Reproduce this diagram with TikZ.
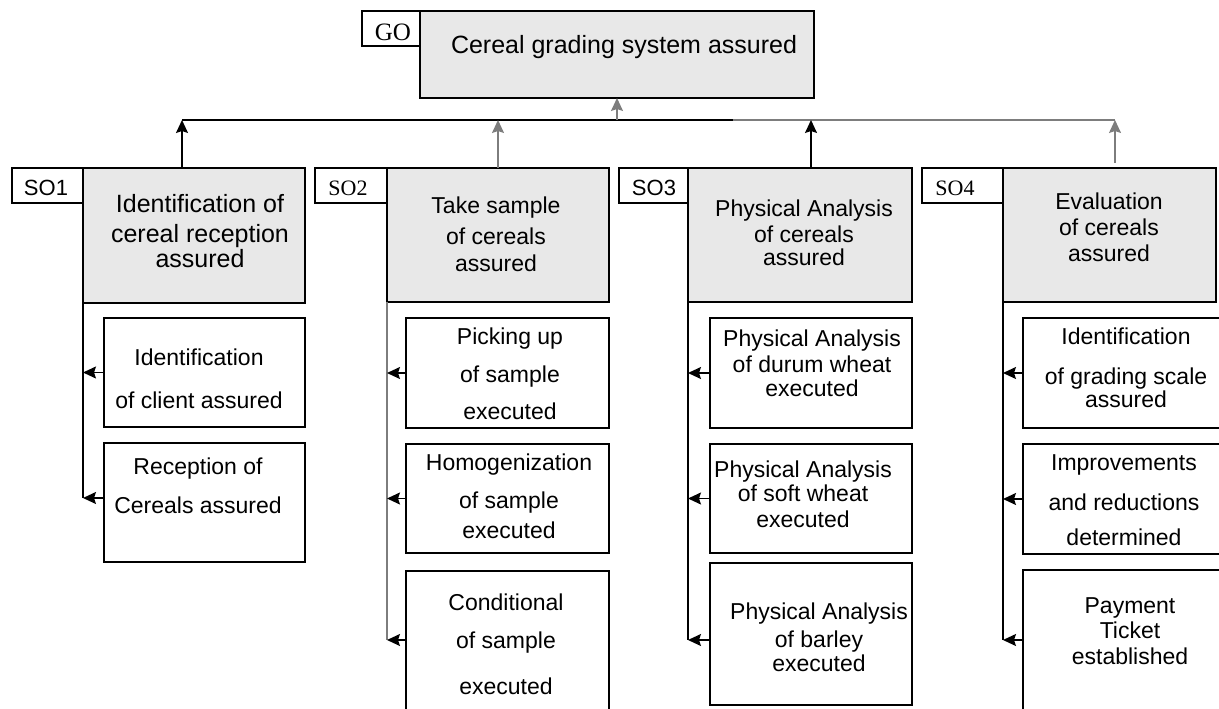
\documentclass[tikz,border=0pt]{standalone}
\usepackage{fontspec}
\setmainfont{Liberation Sans}
\newfontfamily\labserif{Liberation Serif}
\usetikzlibrary{arrows.meta}
\definecolor{boxfill}{RGB}{232,232,232}
\definecolor{lgray}{RGB}{125,125,125}
\begin{document}
\begin{tikzpicture}[x=1pt,y=-1pt,
  box/.style={draw, line width=1.5pt, inner sep=0pt, outer sep=0pt, anchor=north west},
  gbox/.style={box, fill=boxfill},
  txt/.style={align=center, inner sep=0pt, anchor=base, font=\fontsize{23}{24}\selectfont},
  bigtxt/.style={txt, font=\fontsize{25}{25}\selectfont},
  lab/.style={inner sep=0pt, anchor=base, font=\fontsize{22}{22}\selectfont},
  slab/.style={lab, font=\labserif\fontsize{22}{22}\selectfont},
  ln/.style={line width=1.5pt},
  arr/.style={line width=1.5pt, -{Stealth[length=13pt,width=12pt,inset=2pt]}}]
\useasboundingbox (0,0) rectangle (1219,709);
\clip (0,0) rectangle (1219,709);

% ---------- boxes ----------
\node[box, minimum width=58pt, minimum height=35pt] (GOl) at (362,11) {};
\node[gbox, minimum width=394pt, minimum height=87pt] (GO) at (420,11) {};

\node[box, minimum width=71pt, minimum height=35pt] (SO1l) at (12,168) {};
\node[gbox, minimum width=222pt, minimum height=135pt] (SO1) at (83,168) {};
\node[box, minimum width=201pt, minimum height=109pt] (s11) at (104,318) {};
\node[box, minimum width=201pt, minimum height=119pt] (s12) at (104,443) {};

\node[box, minimum width=72pt, minimum height=35pt] (SO2l) at (315,168) {};
\node[gbox, minimum width=222pt, minimum height=134pt] (SO2) at (387,168) {};
\node[box, minimum width=203pt, minimum height=110pt] (s21) at (406,318) {};
\node[box, minimum width=203pt, minimum height=109pt] (s22) at (406,444) {};
\node[box, minimum width=203pt, minimum height=150pt] (s23) at (406,571) {};

\node[box, minimum width=69pt, minimum height=35pt] (SO3l) at (619,168) {};
\node[gbox, minimum width=224pt, minimum height=134pt] (SO3) at (688,168) {};
\node[box, minimum width=202pt, minimum height=110pt] (s31) at (710,318) {};
\node[box, minimum width=202pt, minimum height=109pt] (s32) at (710,444) {};
\node[box, minimum width=202pt, minimum height=142pt] (s33) at (710,563) {};

\node[box, minimum width=81pt, minimum height=35pt] (SO4l) at (922,168) {};
\node[gbox, minimum width=213pt, minimum height=134pt] (SO4) at (1003,168) {};
\node[box, minimum width=206pt, minimum height=110pt] (s41) at (1023,318) {};
\node[box, minimum width=206pt, minimum height=110pt] (s42) at (1023,444) {};
\node[box, minimum width=206pt, minimum height=150pt] (s43) at (1023,570) {};

% ---------- top connectors ----------
\coordinate (bL) at (182,120);
\coordinate (bM) at (733,120);
\coordinate (bR) at (1115,120);
\draw[ln] (bL) -- (bM);
\draw[ln, lgray] (bM) -- (bR);
\draw[arr, lgray] (GO.south |- bM) -- (GO.south);
\draw[arr] (SO1.north -| bL) -- (bL);
\draw[arr, lgray] (SO2.north) -- (SO2.north |- bL);
\draw[arr] ([xshift=11pt]SO3.north) -- ([xshift=11pt]SO3.north |- bL);
\draw[arr, lgray, shorten <=5pt] (SO4.north -| bR) -- (bR);

% ---------- SO1 branch ----------
\draw[ln] (SO1.south west) -- ([yshift=4.5pt]s12.west -| SO1.south west);
\draw[arr] (s11.west) -- (s11.west -| SO1.south west);
\draw[arr] ([yshift=4.5pt]s12.west) -- ([yshift=4.5pt]s12.west -| SO1.south west);

% ---------- SO2 branch ----------
\draw[ln, lgray] (SO2.south west) -- ([yshift=6pt]s23.west -| SO2.south west);
\draw[arr] (s21.west) -- (s21.west -| SO2.south west);
\draw[arr] (s22.west) -- (s22.west -| SO2.south west);
\draw[arr] ([yshift=6pt]s23.west) -- ([yshift=6pt]s23.west -| SO2.south west);

% ---------- SO3 branch ----------
\draw[ln] (SO3.south west) -- ([yshift=-6pt]s33.west -| SO3.south west);
\draw[arr] (s31.west) -- (s31.west -| SO3.south west);
\draw[arr] (s32.west) -- (s32.west -| SO3.south west);
\draw[arr] ([yshift=-6pt]s33.west) -- ([yshift=-6pt]s33.west -| SO3.south west);

% ---------- SO4 branch ----------
\draw[ln] (SO4.south west) -- ([yshift=5pt]s43.west -| SO4.south west);
\draw[arr] (s41.west) -- (s41.west -| SO4.south west);
\draw[arr] (s42.west) -- (s42.west -| SO4.south west);
\draw[arr] ([yshift=5pt]s43.west) -- ([yshift=5pt]s43.west -| SO4.south west);

% ---------- labels ----------
\node[slab, font=\labserif\fontsize{25}{25}\selectfont] (tGOl) at (393,41) {GO};
\node[lab] (tSO1l) at (46,195) {SO1};
\node[slab] (tSO2l) at (348,195) {SO2};
\node[lab] (tSO3l) at (654,195) {SO3};
\node[slab] (tSO4l) at (955,195) {SO4};

% ---------- texts (anchor = baseline of last line) ----------
\node[bigtxt] (tGO) at (624,54) {Cereal grading system assured};

\node[bigtxt] (tSO1) at (200,267) {Identification of\\[5pt]cereal reception\\assured};
\node[txt] (ts11) at (199,408) {Identification\\[19pt]of client assured};
\node[txt] (ts12) at (198,513) {Reception of\\[15pt]Cereals assured};

\node[txt] (tSO2) at (496,271) {Take sample\\[7pt]of cereals\\[3pt]assured};
\node[txt] (ts21) at (510,419) {Picking up\\[14pt]of sample\\[13pt]executed};
\node[txt] (ts22) at (509,538) {Homogenization\\[14pt]of sample\\[6pt]executed};
\node[txt] (ts23) at (506,694) {Conditional\\[14pt]of sample\\[22pt]executed};

\node[txt] (tSO3) at (804,265) {Physical Analysis\\[2pt]of cereals\\[-1pt]assured};
\node[txt] (ts31) at (812,396) {Physical Analysis\\[2pt]of durum wheat\\executed};
\node[txt] (ts32) at (803,527) {Physical Analysis\\of soft wheat\\[2pt]executed};
\node[txt] (ts33) at (819,671) {Physical Analysis\\[4pt]of barley\\executed};

\node[txt] (tSO4) at (1109,261) {Evaluation\\[2pt]of cereals\\[2pt]assured};
\node[txt] (ts41) at (1126,407) {Identification\\[16pt]of grading scale\\[-1pt]assured};
\node[txt] (ts42) at (1124,545) {Improvements\\[16pt]and reductions\\[11pt]determined};
\node[txt] (ts43) at (1130,664) {Payment\\[1pt]Ticket\\[2pt]established};
\end{tikzpicture}
\end{document}
